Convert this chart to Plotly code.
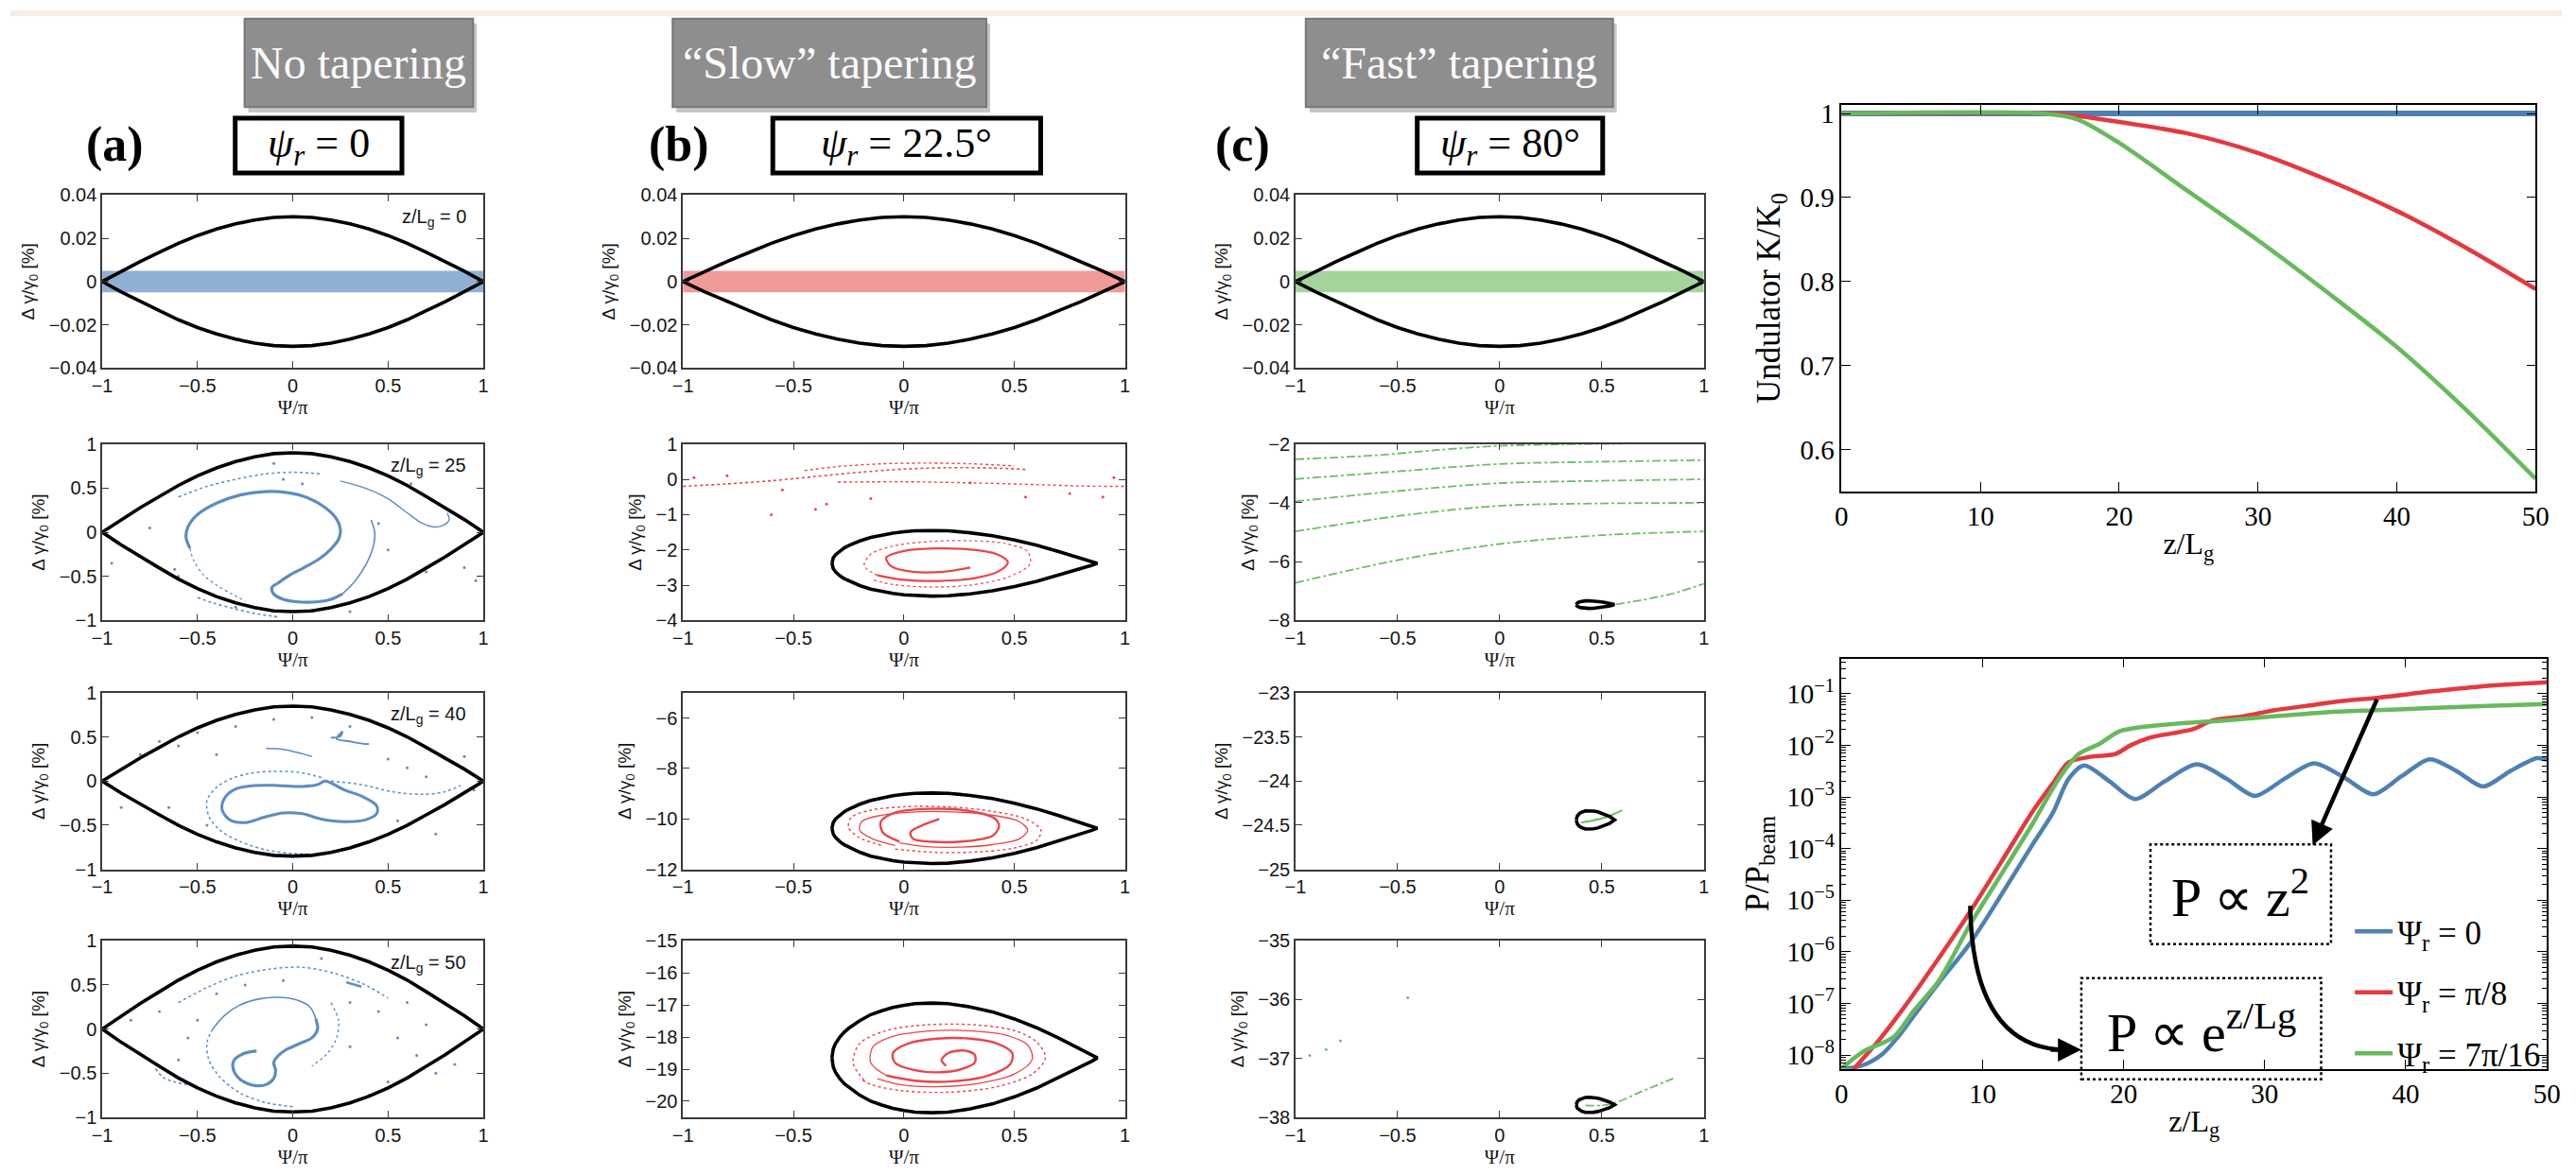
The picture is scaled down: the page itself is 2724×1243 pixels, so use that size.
import plotly.graph_objects as go

W, H = 2724, 1243
SANS = "Liberation Sans, Arial, Helvetica, sans-serif"
SERIF = "Liberation Serif, Times New Roman, serif"

# ---------------------------------------------------------------- data
PSI_TICKS = [-1, -0.5, 0, 0.5, 1]
Z_LABELS = ["0", "25", "40", "50"]
HEADERS = ["No tapering", "\u201cSlow\u201d tapering", "\u201cFast\u201d tapering"]
PANEL_TAGS = ["(a)", "(b)", "(c)"]
PSI_R_TEXT = ["0", "22.5\u00b0", "80\u00b0"]

# separatrix profiles (normalised half height vs psi/pi)
SEP_SYM_X = [-1.0, -0.9, -0.8, -0.7, -0.6, -0.5, -0.4, -0.3, -0.2, -0.1, 0.0,
             0.1, 0.2, 0.3, 0.4, 0.5, 0.6, 0.7, 0.8, 0.9, 1.0]
SEP_SYM_H = [0.0, 0.16, 0.31, 0.45, 0.59, 0.71, 0.81, 0.89, 0.95, 0.99, 1.0,
             0.99, 0.95, 0.89, 0.81, 0.71, 0.59, 0.45, 0.31, 0.16, 0.0]
SEP_B_X = [-0.3258, -0.323, -0.32, -0.31, -0.29, -0.27, -0.25, -0.2, -0.15, -0.1, -0.05,
           0.0, 0.05, 0.125, 0.2, 0.3, 0.4, 0.5, 0.6, 0.7, 0.8, 0.85, 0.875]
SEP_B_H = [0.0, 0.11, 0.16, 0.26, 0.38, 0.47, 0.54, 0.68, 0.79, 0.86, 0.92,
           0.96, 0.99, 1.0, 0.99, 0.93, 0.84, 0.71, 0.55, 0.36, 0.16, 0.06, 0.0]
SEP_C_X = [0.375, 0.38, 0.39, 0.40, 0.42, 0.4375, 0.46, 0.48, 0.50, 0.52, 0.54, 0.5625]
SEP_C_H = [0.0, 0.42, 0.68, 0.82, 0.98, 1.0, 0.96, 0.87, 0.72, 0.53, 0.35, 0.0]

A_SEP_PEAK = [0.03, 0.90, 0.85, 0.94]
B_SEP_CENTER = [-2.38, -10.37, -18.65]
B_SEP_HALF = [0.93, 1.40, 1.71]
C_SEP_CENTER = [-7.46, -24.44, -37.79]
C_SEP_HALF = [0.13, 0.105, 0.13]
BAND_HALF = 0.005

Y_RANGES = [[-0.04, 0.04], [-1, 1], [-1, 1], [-1, 1],
            [-0.04, 0.04], [-4, 1], [-12, -5], [-20.5, -15],
            [-0.04, 0.04], [-8, -2], [-25, -23], [-38, -35]]
Y_TICKS = [[-0.04, -0.02, 0, 0.02, 0.04], [-1, -0.5, 0, 0.5, 1], [-1, -0.5, 0, 0.5, 1], [-1, -0.5, 0, 0.5, 1],
           [-0.04, -0.02, 0, 0.02, 0.04], [-4, -3, -2, -1, 0, 1], [-12, -10, -8, -6], [-20, -19, -18, -17, -16, -15],
           [-0.04, -0.02, 0, 0.02, 0.04], [-8, -6, -4, -2], [-25, -24.5, -24, -23.5, -23], [-38, -37, -36, -35]]

# ---- column (a): particles
A2_CORE_X = [-0.08, -0.02, 0.06, 0.14, 0.2, 0.24, 0.25, 0.23, 0.17, 0.08, -0.03, -0.15, -0.28, -0.4, -0.5, -0.55, -0.56, -0.54]
A2_CORE_Y = [-0.58, -0.49, -0.4, -0.3, -0.19, -0.08, 0.03, 0.15, 0.28, 0.39, 0.45, 0.46, 0.42, 0.33, 0.2, 0.06, -0.06, -0.18]
A2_HOOK_X = [-0.08, -0.11, -0.1, -0.05, 0.03, 0.12, 0.2, 0.26]
A2_HOOK_Y = [-0.58, -0.63, -0.7, -0.76, -0.79, -0.79, -0.76, -0.7]
A2_OUTER_X = [0.26, 0.32, 0.38, 0.42, 0.43, 0.41]
A2_OUTER_Y = [-0.7, -0.57, -0.38, -0.18, 0.0, 0.14]
A2_TAIL_X = [-0.54, -0.52, -0.47, -0.4, -0.32, -0.25]
A2_TAIL_Y = [-0.18, -0.32, -0.48, -0.6, -0.7, -0.78]
A2_HOOKR_X = [0.25, 0.38, 0.5, 0.6, 0.68, 0.74, 0.79, 0.82, 0.81]
A2_HOOKR_Y = [0.58, 0.5, 0.38, 0.22, 0.1, 0.06, 0.08, 0.14, 0.22]
A2_BOT_X = [-0.5, -0.42, -0.32, -0.2, -0.08]
A2_BOT_Y = [-0.74, -0.8, -0.86, -0.92, -0.96]
A2_TOP_X = [-0.6, -0.45, -0.3, -0.15, 0.0, 0.15]
A2_TOP_Y = [0.4, 0.52, 0.6, 0.66, 0.68, 0.66]
A2_DOT_X = [-0.92, -0.85, -0.75, -0.62, -0.1, 0.05, 0.1, 0.5, 0.7, 0.9, 0.96, -0.95, -0.6, -0.3, 0.3, 0.45, 0.62, -0.05]
A2_DOT_Y = [-0.12, -0.2, 0.05, -0.42, 0.78, 0.55, -0.88, -0.2, -0.45, -0.4, -0.55, -0.35, -0.5, -0.85, -0.9, 0.1, 0.55, 0.6]

A3_CORE_X = [0.17, 0.27, 0.37, 0.44, 0.44, 0.38, 0.27, 0.15, 0.05, -0.05, -0.15, -0.25, -0.33, -0.37, -0.36, -0.3, -0.2, -0.08, 0.05, 0.13, 0.17]
A3_CORE_Y = [0.0, -0.1, -0.18, -0.28, -0.37, -0.44, -0.46, -0.43, -0.37, -0.36, -0.41, -0.47, -0.44, -0.33, -0.2, -0.09, -0.05, -0.05, -0.06, -0.04, 0.0]
A3_ARC_X = [0.15, 0.03, -0.1, -0.22, -0.32, -0.4, -0.45, -0.44, -0.38, -0.27, -0.14, 0.0, 0.12]
A3_ARC_Y = [0.04, 0.1, 0.11, 0.09, 0.03, -0.07, -0.22, -0.4, -0.56, -0.69, -0.78, -0.82, -0.83]
A3_RARC_X = [0.2, 0.36, 0.52, 0.68, 0.8, 0.88]
A3_RARC_Y = [0.0, -0.04, -0.12, -0.15, -0.12, -0.05]
A3_HOOK_X = [0.2, 0.25, 0.26, 0.23, 0.3, 0.38, 0.4]
A3_HOOK_Y = [0.49, 0.51, 0.56, 0.48, 0.45, 0.42, 0.42]
A3_SEG_X = [-0.14, -0.05, 0.05, 0.1]
A3_SEG_Y = [0.37, 0.36, 0.31, 0.28]
A3_DOT_X = [-0.8, -0.7, -0.6, -0.5, -0.4, -0.3, -0.1, 0.1, 0.3, 0.5, 0.6, 0.7, 0.8, 0.9, -0.65, -0.45, 0.55, 0.75, 0.95, -0.9]
A3_DOT_Y = [0.3, 0.45, 0.4, 0.55, 0.3, 0.62, 0.7, 0.72, 0.62, 0.25, 0.15, 0.05, 0.25, 0.28, -0.3, -0.5, -0.45, -0.6, -0.1, -0.3]

A4_CORE_X = [0.12, 0.13, 0.1, 0.03, -0.04, -0.08, -0.1, -0.09, -0.1, -0.14, -0.2, -0.27, -0.31, -0.31, -0.26, -0.19]
A4_CORE_Y = [0.12, 0.0, -0.1, -0.17, -0.24, -0.31, -0.38, -0.47, -0.56, -0.63, -0.64, -0.58, -0.47, -0.36, -0.28, -0.25]
A4_UP_X = [0.12, 0.09, 0.02, -0.08, -0.18, -0.28, -0.36, -0.42]
A4_UP_Y = [0.12, 0.25, 0.33, 0.36, 0.34, 0.27, 0.15, 0.0]
A4_LARC_X = [-0.42, -0.45, -0.44, -0.38, -0.28, -0.15, 0.0]
A4_LARC_Y = [0.0, -0.15, -0.35, -0.55, -0.72, -0.83, -0.88]
A4_RARC_X = [0.2, 0.24, 0.23, 0.18, 0.1]
A4_RARC_Y = [0.3, 0.1, -0.1, -0.28, -0.42]
A4_DASH_X = [0.28, 0.36]
A4_DASH_Y = [0.53, 0.48]
A4_OARC_X = [-0.6, -0.45, -0.3, -0.12, 0.05, 0.22, 0.38, 0.5]
A4_OARC_Y = [0.3, 0.47, 0.6, 0.68, 0.7, 0.63, 0.5, 0.35]
A4_BLOB_X = [-0.72, -0.68, -0.62, -0.55]
A4_BLOB_Y = [-0.45, -0.55, -0.6, -0.63]
A4_DOT_X = [-0.85, -0.7, -0.55, -0.4, -0.25, -0.05, 0.15, 0.3, 0.45, 0.55, 0.65, 0.75, 0.85, 0.6, 0.5, 0.4, -0.6, -0.5, 0.3, 0.7]
A4_DOT_Y = [0.1, 0.2, -0.1, 0.4, 0.5, 0.55, 0.8, 0.3, 0.2, -0.1, -0.3, -0.5, -0.4, 0.3, -0.6, -0.75, -0.35, 0.1, -0.2, 0.05]

# ---- column (b): particles
B2_RING_X = [0.3, 0.18, 0.04, -0.06, -0.08, 0.0, 0.14, 0.3, 0.42, 0.47, 0.43, 0.32, 0.16, 0.0, -0.12]
B2_RING_Y = [-2.5, -2.62, -2.62, -2.45, -2.22, -2.03, -1.96, -1.99, -2.12, -2.35, -2.6, -2.8, -2.88, -2.85, -2.72]
B2_THIN_X = [-0.12, -0.18, -0.15, -0.04, 0.12, 0.3, 0.46, 0.56, 0.57, 0.48, 0.3, 0.1, -0.05, -0.14]
B2_THIN_Y = [-2.72, -2.45, -2.12, -1.88, -1.76, -1.74, -1.82, -2.05, -2.4, -2.75, -3.0, -3.05, -2.98, -2.85]
B2_ARCA_X = [-1, -0.8, -0.6, -0.4, -0.2, 0.0, 0.2, 0.4, 0.55]
B2_ARCA_Y = [-0.2, -0.13, -0.04, 0.08, 0.2, 0.29, 0.33, 0.32, 0.28]
B2_ARCB_X = [-0.45, -0.3, -0.1, 0.1, 0.3, 0.5]
B2_ARCB_Y = [0.25, 0.36, 0.44, 0.46, 0.44, 0.38]
B2_ARCC_X = [-0.3, 0.0, 0.3, 0.6, 0.8, 1.0]
B2_ARCC_Y = [-0.08, -0.07, -0.1, -0.15, -0.19, -0.2]
B2_DOT_X = [-0.95, -0.8, -0.55, -0.35, -0.15, 0.3, 0.55, 0.75, 0.9, -0.6, -0.4, 0.95]
B2_DOT_Y = [0.05, 0.1, -0.3, -0.7, -0.55, -0.1, -0.5, -0.4, -0.5, -1.0, -0.85, 0.05]

B3_CORE_X = [0.16, 0.095, 0.03, 0.04, 0.13, 0.285, 0.40, 0.43, 0.41, 0.285, 0.11, -0.04, -0.105, -0.095, -0.02]
B3_CORE_Y = [-10.0, -10.21, -10.52, -10.78, -10.91, -10.88, -10.67, -10.31, -9.98, -9.67, -9.6, -9.75, -10.12, -10.54, -10.9]
B3_THIN_X = [-0.02, 0.1, 0.25, 0.4, 0.52, 0.56, 0.52, 0.4, 0.22, 0.05, -0.1, -0.19, -0.2, -0.14, -0.04]
B3_THIN_Y = [-10.95, -11.1, -11.12, -11.02, -10.8, -10.45, -10.1, -9.85, -9.72, -9.72, -9.85, -10.1, -10.45, -10.8, -11.05]
B3_OUT_X = [-0.04, 0.15, 0.35, 0.5, 0.6, 0.62, 0.55, 0.4, 0.2, 0.0, -0.15, -0.24, -0.25, -0.2, -0.1]
B3_OUT_Y = [-11.2, -11.33, -11.3, -11.15, -10.85, -10.45, -10.0, -9.7, -9.52, -9.52, -9.65, -9.95, -10.35, -10.75, -11.05]

B4_CORE_X = [0.19, 0.17, 0.2, 0.27, 0.32, 0.32, 0.26, 0.15, 0.04, -0.04, -0.05, 0.02, 0.15, 0.3, 0.42, 0.49, 0.48, 0.38, 0.22, 0.05, -0.08]
B4_CORE_Y = [-18.9, -18.72, -18.5, -18.42, -18.55, -18.8, -19.0, -19.1, -19.02, -18.8, -18.5, -18.2, -18.05, -18.05, -18.2, -18.5, -18.85, -19.2, -19.38, -19.36, -19.2]
B4_THIN_X = [-0.08, -0.15, -0.14, -0.05, 0.1, 0.28, 0.45, 0.56, 0.58, 0.5, 0.33, 0.12, -0.04, -0.12]
B4_THIN_Y = [-19.2, -18.8, -18.3, -17.98, -17.82, -17.8, -17.92, -18.25, -18.7, -19.15, -19.45, -19.55, -19.45, -19.3]
B4_OUT_X = [-0.18, -0.23, -0.2, -0.08, 0.1, 0.32, 0.5, 0.6, 0.64, 0.58, 0.42, 0.2, 0.0, -0.14, -0.2]
B4_OUT_Y = [-19.35, -18.8, -18.2, -17.8, -17.62, -17.62, -17.8, -18.15, -18.65, -19.15, -19.55, -19.72, -19.68, -19.5, -19.3]

# ---- column (c): particles
C2_ARC_X = [-1, -0.5, 0, 0.5, 1]
C2_ARC1_X = [-1, -0.6, -0.3, 0.0, 0.3, 0.6]
C2_ARC1_Y = [-2.52, -2.38, -2.2, -2.06, -2.01, -1.99]
C2_ARC2_Y = [-3.19, -2.93, -2.68, -2.6, -2.55]
C2_ARC3_Y = [-3.95, -3.6, -3.33, -3.25, -3.2]
C2_ARC4_Y = [-4.97, -4.45, -4.1, -4.02, -4.0]
C2_ARC5_Y = [-6.72, -5.95, -5.4, -5.1, -4.97]
C2_TAIL_X = [0.57, 0.7, 0.85, 1.0]
C2_TAIL_Y = [-7.45, -7.3, -7.08, -6.75]
C3_CORE_X = [0.4, 0.45, 0.52, 0.6]
C3_CORE_Y = [-24.47, -24.45, -24.41, -24.33]
C4_CORE_X = [0.42, 0.5, 0.57, 0.69, 0.85]
C4_CORE_Y = [-37.8, -37.8, -37.75, -37.57, -37.34]
C4_DOT_X = [-0.93, -0.85, -0.78, -0.45]
C4_DOT_Y = [-36.95, -36.85, -36.7, -35.97]

# ---- undulator taper K/K0
K_Z_BLUE = [0, 50]
K_BLUE = [1.0, 1.0]
K_Z_RED = [0, 15, 17, 20, 25, 30, 35, 40, 45, 50]
K_RED = [1.0, 1.0, 0.997, 0.99, 0.976, 0.953, 0.921, 0.884, 0.840, 0.791]
K_Z_GREEN = [0, 14.5, 17, 20, 25, 30, 35, 40, 45, 50]
K_GREEN = [1.0, 1.0, 0.993, 0.965, 0.907, 0.849, 0.787, 0.722, 0.647, 0.565]

# ---- power P/Pbeam (log10)
P_BLUE_Z = [0, 1.5, 2.9, 4.0, 5.1, 6.9, 9.1, 11.3, 13.5, 15.0, 16.1, 17.2, 19.0, 20.8, 22.9, 25.2, 27.3,
            29.3, 31.4, 33.5, 35.6, 37.7, 39.7, 41.7, 43.6, 45.5, 47.4, 49.3, 50.0]
P_BLUE_LOG = [-8.27, -8.2, -7.98, -7.65, -7.25, -6.6, -5.84, -4.91, -3.94, -3.3, -2.65, -2.39, -2.7, -3.04, -2.7,
              -2.37, -2.65, -2.98, -2.65, -2.35, -2.62, -2.95, -2.6, -2.27, -2.5, -2.8, -2.5, -2.25, -2.28]
P_RED_Z = [0.8, 1.1, 2.6, 4.4, 6.9, 9.1, 11.3, 13.5, 15.0, 16.1, 17.5, 19.4, 20.5, 21.9, 23.4, 24.9, 26.3,
           28.5, 30.7, 32.9, 35.5, 38.0, 41.7, 45.3, 50.0]
P_RED_LOG = [-8.3, -8.2, -7.73, -7.09, -6.12, -5.23, -4.27, -3.3, -2.73, -2.33, -2.23, -2.17, -2.0, -1.85, -1.77,
             -1.69, -1.52, -1.44, -1.32, -1.24, -1.14, -1.08, -0.96, -0.86, -0.78]
P_GREEN_Z = [0, 1.5, 3.7, 5.1, 6.9, 9.1, 11.3, 13.5, 15.4, 16.8, 18.3, 19.7, 21.2, 23.4, 27.1, 30.7, 34.4,
             38.0, 41.7, 45.3, 50.0]
P_GREEN_LOG = [-8.26, -7.94, -7.65, -7.15, -6.56, -5.48, -4.51, -3.54, -2.65, -2.17, -1.97, -1.73, -1.65, -1.59,
               -1.52, -1.44, -1.36, -1.32, -1.28, -1.24, -1.2]
P_DECADES = [-8, -7, -6, -5, -4, -3, -2, -1]
LEGEND_NAMES = ["\u03a8<sub>r</sub> = 0", "\u03a8<sub>r</sub> = \u03c0/8", "\u03a8<sub>r</sub> = 7\u03c0/16"]

# annotations on the power plot, in (z/Lg, log10 P)
ARROW1_TAIL = (38.0, -1.085)
ARROW1_HEAD = (33.4, -3.94)
ARROW2_PTS = [(9.12, -5.11), (9.3, -7.9), (16.0, -7.9)]
ARROW2_HEAD = (17.0, -7.9)

# ---------------------------------------------------------------- styles / layout
BLUE, RED, GREEN = "#4f80b4", "#e3393f", "#67b95d"
PT_COLORS = ["#5b8dc0", "#e8464b", "#6bbf62"]
BAND_COLORS = ["#8fb0d4", "#f09a9a", "#a3d59b"]

COL_X0 = [98, 718, 1372]
COL_W = [407, 472, 436]
ROW_Y0 = [199, 467, 735, 1002]
ROW_H = [186, 190, 190, 190]
K_BOX = (1955, 102, 2696, 518)
P_BOX = (1955, 698, 2708, 1140)

def px(x):
    return x / W

def py(y):
    return 1 - y / H

fig = go.Figure()
layout = {}

def refs(i):
    return ("x" if i == 1 else f"x{i}", "y" if i == 1 else f"y{i}")

def axis_names(i):
    return ("xaxis" if i == 1 else f"xaxis{i}", "yaxis" if i == 1 else f"yaxis{i}")

def base_axis(**kw):
    d = dict(showline=True, linecolor="#3a3a3a", linewidth=1.5, mirror="ticks", ticks="inside",
             ticklen=7, tickwidth=1.3, tickcolor="#3a3a3a", showgrid=False, zeroline=False,
             tickfont=dict(family=SANS, size=20, color="#151515"))
    d.update(kw)
    return d

def sep_curve(xs, hs, center, half):
    ux = list(xs)
    uy = [center + h * half for h in hs]
    lx = list(reversed(xs))[1:]
    ly = [center - h * half for h in reversed(hs)][1:]
    return ux + lx, uy + ly

def add_line(i, x, y, color, width, dash=None, spline=True):
    xr, yr = refs(i)
    fig.add_trace(go.Scatter(x=x, y=y, mode="lines", xaxis=xr, yaxis=yr, showlegend=False,
                             hoverinfo="skip",
                             line=dict(color=color, width=width, dash=dash,
                                       shape="spline" if spline else "linear", smoothing=0.9)))

def add_dots(i, x, y, color, size=3):
    xr, yr = refs(i)
    fig.add_trace(go.Scatter(x=x, y=y, mode="markers", xaxis=xr, yaxis=yr, showlegend=False,
                             hoverinfo="skip", marker=dict(color=color, size=size, line=dict(width=0))))

PARTICLES = {
    2: [(A2_CORE_X, A2_CORE_Y, 3.2, None), (A2_HOOK_X, A2_HOOK_Y, 3.2, None), (A2_OUTER_X, A2_OUTER_Y, 1.6, None),
        (A2_TAIL_X, A2_TAIL_Y, 1.2, "dot"), (A2_HOOKR_X, A2_HOOKR_Y, 1.4, None), (A2_BOT_X, A2_BOT_Y, 1.6, "dot"),
        (A2_TOP_X, A2_TOP_Y, 1.5, "dot"), (A2_DOT_X, A2_DOT_Y, 0, "dots")],
    3: [(A3_CORE_X, A3_CORE_Y, 3.0, None), (A3_ARC_X, A3_ARC_Y, 1.5, "dot"), (A3_RARC_X, A3_RARC_Y, 1.5, "dot"),
        (A3_HOOK_X, A3_HOOK_Y, 2.0, None), (A3_SEG_X, A3_SEG_Y, 1.5, None), (A3_DOT_X, A3_DOT_Y, 0, "dots")],
    4: [(A4_CORE_X, A4_CORE_Y, 3.2, None), (A4_UP_X, A4_UP_Y, 1.6, None), (A4_LARC_X, A4_LARC_Y, 1.5, "dot"),
        (A4_RARC_X, A4_RARC_Y, 1.3, "dot"), (A4_DASH_X, A4_DASH_Y, 2.5, None), (A4_OARC_X, A4_OARC_Y, 1.5, "dot"),
        (A4_BLOB_X, A4_BLOB_Y, 1.6, "dot"), (A4_DOT_X, A4_DOT_Y, 0, "dots")],
    6: [(B2_RING_X, B2_RING_Y, 2.2, None), (B2_THIN_X, B2_THIN_Y, 1.2, "dot"), (B2_ARCA_X, B2_ARCA_Y, 1.6, "dot"),
        (B2_ARCB_X, B2_ARCB_Y, 1.4, "dot"), (B2_ARCC_X, B2_ARCC_Y, 1.4, "dot"), (B2_DOT_X, B2_DOT_Y, 0, "dots")],
    7: [(B3_CORE_X, B3_CORE_Y, 2.4, None), (B3_THIN_X, B3_THIN_Y, 1.3, None), (B3_OUT_X, B3_OUT_Y, 1.4, "dot")],
    8: [(B4_CORE_X, B4_CORE_Y, 2.4, None), (B4_THIN_X, B4_THIN_Y, 1.3, None), (B4_OUT_X, B4_OUT_Y, 1.4, "dot")],
    10: [(C2_ARC1_X, C2_ARC1_Y, 1.8, "dashdot"), (C2_ARC_X, C2_ARC2_Y, 1.8, "dashdot"),
         (C2_ARC_X, C2_ARC3_Y, 1.8, "dashdot"), (C2_ARC_X, C2_ARC4_Y, 1.8, "dashdot"),
         (C2_ARC_X, C2_ARC5_Y, 1.8, "dashdot"), (C2_TAIL_X, C2_TAIL_Y, 1.8, "dashdot")],
    11: [(C3_CORE_X, C3_CORE_Y, 2.0, None)],
    12: [(C4_CORE_X, C4_CORE_Y, 1.8, "dashdot"), (C4_DOT_X, C4_DOT_Y, 0, "dots")],
}

annotations = []
shapes = []

for col in range(3):
    for row in range(4):
        i = col * 4 + row + 1
        x0 = COL_X0[col]
        y0 = ROW_Y0[row]
        xa, ya = axis_names(i)
        xr, yr = refs(i)
        layout[xa] = base_axis(domain=[px(x0), px(x0 + COL_W[col])], range=[-1, 1], tickvals=PSI_TICKS,
                               anchor=yr,
                               title=dict(text="\u03a8/\u03c0", standoff=3,
                                          font=dict(family=SERIF, size=21, color="#151515")))
        layout[ya] = base_axis(domain=[py(y0 + ROW_H[row]), py(y0)], range=Y_RANGES[i - 1],
                               tickvals=Y_TICKS[i - 1], anchor=xr,
                               title=dict(text="\u0394 \u03b3/\u03b3<sub>0</sub> [%]", standoff=10,
                                          font=dict(family=SANS, size=19, color="#151515")))
        color = PT_COLORS[col]
        if row == 0:
            fig.add_trace(go.Scatter(x=[-1, 1, 1, -1, -1],
                                     y=[-BAND_HALF, -BAND_HALF, BAND_HALF, BAND_HALF, -BAND_HALF],
                                     mode="lines", fill="toself", fillcolor=BAND_COLORS[col],
                                     line=dict(width=0), xaxis=xr, yaxis=yr, showlegend=False,
                                     hoverinfo="skip"))
        for (cx, cy, wdt, kind) in PARTICLES.get(i, []):
            if kind == "dots":
                add_dots(i, cx, cy, color)
            else:
                add_line(i, cx, cy, color, wdt, kind)
        # separatrix
        if col == 0 or row == 0:
            sx, sy = sep_curve(SEP_SYM_X, SEP_SYM_H, 0.0, A_SEP_PEAK[row] if col == 0 else A_SEP_PEAK[0])
        elif col == 1:
            sx, sy = sep_curve(SEP_B_X, SEP_B_H, B_SEP_CENTER[row - 1], B_SEP_HALF[row - 1])
        else:
            sx, sy = sep_curve(SEP_C_X, SEP_C_H, C_SEP_CENTER[row - 1], C_SEP_HALF[row - 1])
        add_line(i, sx, sy, "black", 3.6, None, spline=False)
        if col == 0:
            annotations.append(dict(xref=f"{xr} domain", yref=f"{yr} domain", x=0.96, y=0.95,
                                    xanchor="right", yanchor="top", showarrow=False,
                                    text=f"z/L<sub>g</sub> = {Z_LABELS[row]}",
                                    font=dict(family=SANS, size=20, color="#151515")))

# ---- K/K0 plot (axis 13)
kx0, ky0, kx1, ky1 = K_BOX
layout["xaxis13"] = base_axis(domain=[px(kx0), px(kx1)], range=[0, 50], tickvals=[0, 10, 20, 30, 40, 50],
                              anchor="y13", ticklen=10, linecolor="black", tickcolor="black",
                              tickfont=dict(family=SERIF, size=29, color="black"),
                              title=dict(text="z/L<sub>g</sub>", standoff=2,
                                         font=dict(family=SERIF, size=32, color="black")))
layout["yaxis13"] = base_axis(domain=[py(ky1), py(ky0)], range=[0.55, 1.01], tickvals=[0.6, 0.7, 0.8, 0.9, 1],
                              ticktext=["0.6", "0.7", "0.8", "0.9", "1"],
                              anchor="x13", ticklen=10, linecolor="black", tickcolor="black",
                              tickfont=dict(family=SERIF, size=29, color="black"),
                              title=dict(text="Undulator K/K<sub>0</sub>", standoff=10,
                                         font=dict(family=SERIF, size=35, color="black")))
for zz, kk, cc, ww in [(K_Z_BLUE, K_BLUE, BLUE, 6), (K_Z_RED, K_RED, RED, 4.5), (K_Z_GREEN, K_GREEN, GREEN, 4.5)]:
    fig.add_trace(go.Scatter(x=zz, y=kk, mode="lines", xaxis="x13", yaxis="y13", showlegend=False,
                             hoverinfo="skip", line=dict(color=cc, width=ww, shape="spline", smoothing=0.8)))

# ---- P/Pbeam plot (axis 14)
qx0, qy0, qx1, qy1 = P_BOX
P_YRANGE = [-8.27, -0.32]
minor_vals = [m * 10.0 ** d for d in [-9] + P_DECADES for m in range(2, 10)]
layout["xaxis14"] = base_axis(domain=[px(qx0), px(qx1)], range=[0, 50], tickvals=[0, 10, 20, 30, 40, 50],
                              anchor="y14", ticklen=10, linecolor="black", tickcolor="black",
                              tickfont=dict(family=SERIF, size=29, color="black"),
                              title=dict(text="z/L<sub>g</sub>", standoff=2,
                                         font=dict(family=SERIF, size=32, color="black")))
layout["yaxis14"] = base_axis(domain=[py(qy1), py(qy0)], type="log", range=P_YRANGE,
                              tickvals=[10.0 ** d for d in P_DECADES],
                              ticktext=[f"10<sup>\u2212{-d}</sup>" for d in P_DECADES],
                              anchor="x14", ticklen=10, linecolor="black", tickcolor="black", mirror="allticks",
                              minor=dict(tickvals=minor_vals, ticks="inside", ticklen=5, tickcolor="black",
                                         showgrid=False),
                              tickfont=dict(family=SERIF, size=29, color="black"),
                              title=dict(text="P/P<sub>beam</sub>", standoff=8,
                                         font=dict(family=SERIF, size=35, color="black")))
for k, (zz, ll, cc, nm) in enumerate([(P_BLUE_Z, P_BLUE_LOG, BLUE, LEGEND_NAMES[0]),
                                      (P_RED_Z, P_RED_LOG, RED, LEGEND_NAMES[1]),
                                      (P_GREEN_Z, P_GREEN_LOG, GREEN, LEGEND_NAMES[2])]):
    fig.add_trace(go.Scatter(x=zz, y=[10.0 ** v for v in ll], mode="lines", xaxis="x14", yaxis="y14",
                             name=nm, legendgroup=f"g{k}", hoverinfo="skip",
                             line=dict(color=cc, width=4.5, shape="spline", smoothing=0.8)))

def p_to_px(z, lg):
    xx = qx0 + (z - 0) / 50.0 * (qx1 - qx0)
    yy = qy1 - (lg - P_YRANGE[0]) / (P_YRANGE[1] - P_YRANGE[0]) * (qy1 - qy0)
    return xx, yy

# straight arrow to the z^2 box
annotations.append(dict(xref="x14", yref="y14", axref="x14", ayref="y14",
                        x=ARROW1_HEAD[0], y=ARROW1_HEAD[1], ax=ARROW1_TAIL[0], ay=ARROW1_TAIL[1],
                        showarrow=True, arrowhead=2, arrowsize=1.1, arrowwidth=4.5, arrowcolor="black",
                        text=""))
# curved arrow to the exponential box
pts = [p_to_px(z, l) for z, l in ARROW2_PTS]
path = "M {:.5f},{:.5f} Q {:.5f},{:.5f} {:.5f},{:.5f}".format(
    px(pts[0][0]), py(pts[0][1]), px(pts[1][0]), py(pts[1][1]), px(pts[2][0]), py(pts[2][1]))
shapes.append(dict(type="path", xref="paper", yref="paper", path=path, line=dict(color="black", width=4.5)))
annotations.append(dict(xref="x14", yref="y14", x=ARROW2_HEAD[0], y=ARROW2_HEAD[1], ax=-34, ay=0,
                        showarrow=True, arrowhead=2, arrowsize=1.1, arrowwidth=4.5, arrowcolor="black",
                        text=""))

# dotted boxes with scaling laws
BOXES = [((21.9, -3.92), (34.7, -5.85), "P \u221d z<sup>2</sup>"),
         ((17.0, -6.51), (34.0, -8.47), "P \u221d e<sup>z/Lg</sup>")]
for (za, la), (zb, lb), txt in BOXES:
    xa_, ya_ = p_to_px(za, la)
    xb_, yb_ = p_to_px(zb, lb)
    shapes.append(dict(type="rect", xref="paper", yref="paper", x0=px(xa_), x1=px(xb_), y0=py(yb_), y1=py(ya_),
                       line=dict(color="black", width=2.5, dash="dot"), fillcolor="rgba(255,255,255,0)"))
    annotations.append(dict(xref="paper", yref="paper", x=px((xa_ + xb_) / 2), y=py((ya_ + yb_) / 2),
                            xanchor="center", yanchor="middle", showarrow=False, text=txt,
                            font=dict(family=SERIF, size=58, color="black")))

# ---- headers, panel tags, psi_r boxes
HEADER_X = [(250, 494), (707, 1042), (1383, 1711)]
PSI_X = [(240, 418), (814, 1100), (1502, 1700)]
TAG_CX = [112, 714, 1316]
shapes.append(dict(type="rect", xref="paper", yref="paper", x0=0, x1=1, y0=py(6), y1=1,
                   line=dict(width=0), fillcolor="#f4eee3", layer="below"))
for k in range(3):
    hx0, hx1 = HEADER_X[k]
    shapes.append(dict(type="rect", xref="paper", yref="paper", x0=px(hx0 + 4), x1=px(hx1 + 4), y0=py(110),
                       y1=py(14), line=dict(width=0), fillcolor="rgba(0,0,0,0.22)"))
    shapes.append(dict(type="rect", xref="paper", yref="paper", x0=px(hx0), x1=px(hx1), y0=py(104), y1=py(9),
                       line=dict(color="#777777", width=2), fillcolor="#8e8e8e"))
    annotations.append(dict(xref="paper", yref="paper", x=px((hx0 + hx1) / 2), y=py(57), xanchor="center",
                            yanchor="middle", showarrow=False, text=HEADERS[k],
                            font=dict(family=SERIF, size=48, color="#fafafa")))
    bx0, bx1 = PSI_X[k]
    shapes.append(dict(type="rect", xref="paper", yref="paper", x0=px(bx0), x1=px(bx1), y0=py(175), y1=py(116),
                       line=dict(color="black", width=5), fillcolor="white"))
    annotations.append(dict(xref="paper", yref="paper", x=px((bx0 + bx1) / 2), y=py(146), xanchor="center",
                            yanchor="middle", showarrow=False,
                            text=f"<i>\u03c8</i><sub><i>r</i></sub> = {PSI_R_TEXT[k]}",
                            font=dict(family=SERIF, size=44, color="black")))
    annotations.append(dict(xref="paper", yref="paper", x=px(TAG_CX[k]), y=py(145), xanchor="center",
                            yanchor="middle", showarrow=False, text=f"<b>{PANEL_TAGS[k]}</b>",
                            font=dict(family=SERIF, size=52, color="black")))

fig.update_layout(**layout)
fig.update_layout(width=W, height=H, autosize=False, margin=dict(l=0, r=0, t=0, b=0),
                  paper_bgcolor="white", plot_bgcolor="white", annotations=annotations, shapes=shapes,
                  showlegend=True,
                  legend=dict(x=px(2498), y=py(962), xanchor="left", yanchor="top", bgcolor="rgba(0,0,0,0)",
                              font=dict(family=SERIF, size=35, color="black"), itemwidth=40,
                              tracegroupgap=16))
fig.write_html("out.html", include_plotlyjs=True, full_html=True, config={"displayModeBar": False})
